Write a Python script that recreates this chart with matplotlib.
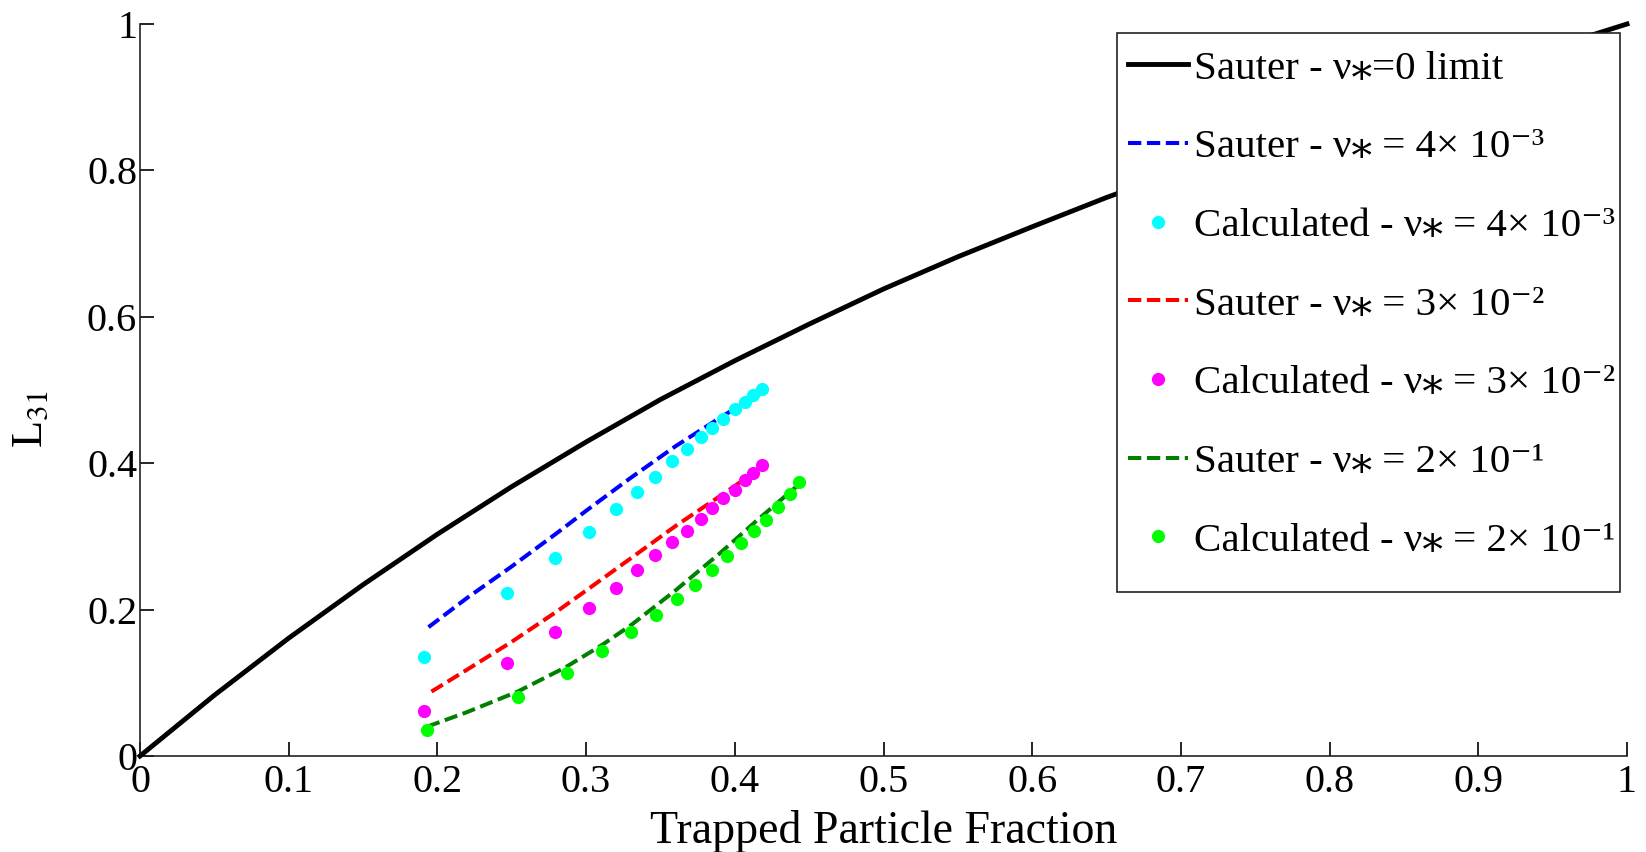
import numpy as np
import matplotlib
matplotlib.use("Agg")
import matplotlib.pyplot as plt
from matplotlib.patches import Rectangle

plt.rcParams["font.family"] = ["Liberation Serif", "DejaVu Serif", "DejaVu Sans"]
plt.rcParams["mathtext.fontset"] = "stix"

# Sauter, collisionless limit
x_lim0 = [0.0, 0.05, 0.1, 0.15, 0.2, 0.25, 0.3, 0.35, 0.4, 0.45, 0.5,
          0.55, 0.6, 0.65, 0.7, 0.75, 0.8, 0.85, 0.9, 0.95, 1.0]
y_lim0 = [0.0, 0.083, 0.161, 0.234, 0.303, 0.368, 0.429, 0.487, 0.540, 0.590, 0.638,
          0.682, 0.723, 0.763, 0.800, 0.836, 0.870, 0.903, 0.936, 0.968, 1.0]

# Sauter at finite collisionality
x_s4 = [0.194, 0.22, 0.25, 0.28, 0.30, 0.33, 0.36, 0.39, 0.418]
y_s4 = [0.176, 0.216, 0.259, 0.304, 0.335, 0.380, 0.423, 0.462, 0.497]
x_s3 = [0.196, 0.22, 0.25, 0.28, 0.30, 0.33, 0.36, 0.39, 0.418]
y_s3 = [0.088, 0.118, 0.156, 0.197, 0.226, 0.270, 0.314, 0.355, 0.394]
x_s2 = [0.193, 0.22, 0.254, 0.286, 0.311, 0.331, 0.36, 0.39, 0.415, 0.442]
y_s2 = [0.040, 0.060, 0.088, 0.121, 0.152, 0.180, 0.226, 0.277, 0.322, 0.369]

# calculated points
x_c4 = [0.191, 0.247, 0.279, 0.302, 0.320, 0.334, 0.346, 0.358, 0.368, 0.377,
        0.385, 0.392, 0.400, 0.407, 0.412, 0.418]
y_c4 = [0.135, 0.222, 0.271, 0.306, 0.337, 0.361, 0.381, 0.403, 0.420, 0.436,
        0.448, 0.461, 0.474, 0.483, 0.493, 0.501]
x_c3 = x_c4
y_c3 = [0.062, 0.127, 0.169, 0.202, 0.229, 0.254, 0.274, 0.292, 0.308, 0.324,
        0.339, 0.353, 0.364, 0.377, 0.387, 0.397]
x_c2 = [0.193, 0.254, 0.287, 0.311, 0.330, 0.347, 0.361, 0.373, 0.385, 0.395,
        0.404, 0.413, 0.421, 0.429, 0.437, 0.443]
y_c2 = [0.036, 0.080, 0.114, 0.144, 0.169, 0.193, 0.215, 0.234, 0.254, 0.273,
        0.291, 0.308, 0.323, 0.340, 0.358, 0.374]

labels = ["Sauter - ν⁎=0 limit",
          "Sauter - ν⁎ = 4× 10⁻³",
          "Calculated - ν⁎ = 4× 10⁻³",
          "Sauter - ν⁎ = 3× 10⁻²",
          "Calculated - ν⁎ = 3× 10⁻²",
          "Sauter - ν⁎ = 2× 10⁻¹",
          "Calculated - ν⁎ = 2× 10⁻¹"]

fig = plt.figure(figsize=(16.46, 8.52), dpi=100)
ax = fig.add_axes([140 / 1646, 1 - 756 / 852, 1487 / 1646, 732 / 852])

dash = (0, (3.3, 1.4))
ax.plot(x_lim0, y_lim0, color="black", lw=3.5, label=labels[0], clip_on=False, zorder=3)
ax.plot(x_s4, y_s4, color="#0000ff", lw=2.9, ls=dash, label=labels[1])
ax.plot(x_c4, y_c4, "o", color="#00ffff", ms=9.5, mec="none", label=labels[2])
ax.plot(x_s3, y_s3, color="#ff0000", lw=2.9, ls=dash, label=labels[3])
ax.plot(x_c3, y_c3, "o", color="#ff00ff", ms=9.5, mec="none", label=labels[4])
ax.plot(x_s2, y_s2, color="#008000", lw=2.9, ls=dash, label=labels[5])
ax.plot(x_c2, y_c2, "o", color="#00ff00", ms=9.5, mec="none", label=labels[6])

ax.set_xlim(0, 1); ax.set_ylim(0, 1)
xt = np.round(np.arange(0, 1.01, 0.1), 1)
yt = np.round(np.arange(0, 1.01, 0.2), 1)
ax.set_xticks(xt); ax.set_xticklabels(["%g" % v for v in xt])
ax.set_yticks(yt); ax.set_yticklabels(["%g" % v for v in yt])
ax.tick_params(direction="in", length=10, width=1.2, labelsize=29)
ax.tick_params(axis="x", pad=6)
ax.tick_params(axis="y", pad=2)
ax.spines["top"].set_visible(False); ax.spines["right"].set_visible(False)
for s in ("left", "bottom"):
    ax.spines[s].set_linewidth(1.2)
    ax.spines[s].set_color("#222222")

ax.set_xlabel("Trapped Particle Fraction", fontsize=33, labelpad=6)
ax.set_ylabel("L$_{31}$", fontsize=32)
ax.yaxis.set_label_coords(-0.060, 0.46)

# legend box drawn by hand (MATLAB leaves extra room under the last row)
ax.add_patch(Rectangle((0.657, 0.224), 0.9953 - 0.657, 0.988 - 0.224, transform=ax.transAxes,
                       facecolor="white", edgecolor="#222222", lw=1.2, zorder=4, clip_on=False))
leg = ax.legend(loc="upper right", bbox_to_anchor=(1.0017, 0.984), borderaxespad=0,
                fontsize=29.5, numpoints=1, handlelength=1.45, handletextpad=0.15,
                labelspacing=1.0, borderpad=0.35, frameon=False)
leg.set_zorder(5)

fig.savefig("out.png", dpi=100)
